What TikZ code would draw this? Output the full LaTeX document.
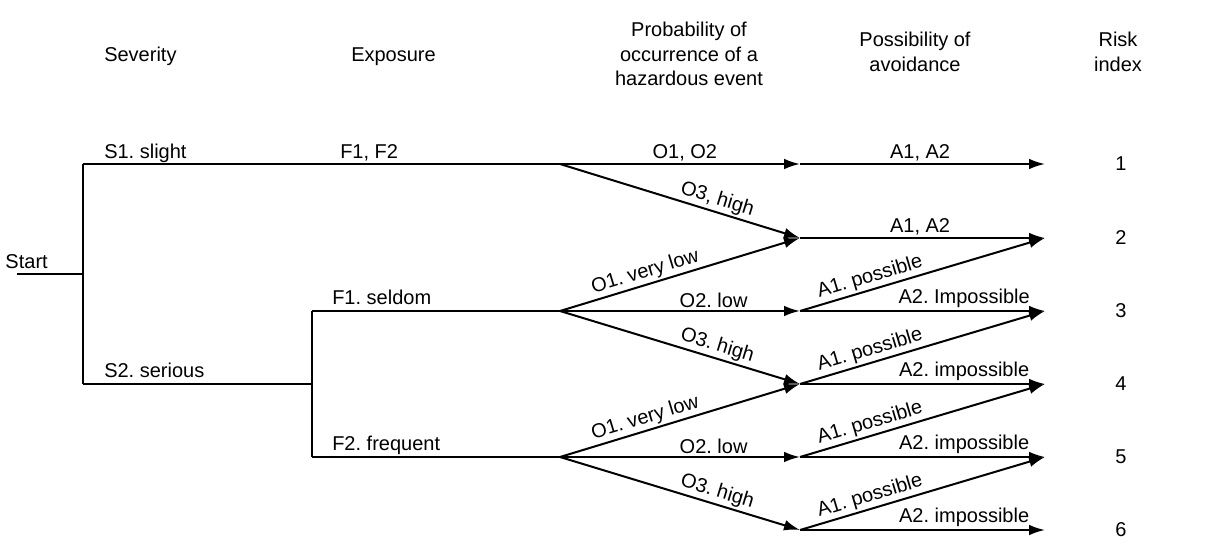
\documentclass[tikz,border=0pt]{standalone}
\usepackage{fontspec}
\setmainfont{Liberation Sans}
\usetikzlibrary{arrows.meta}
\begin{document}
\frenchspacing
\begin{tikzpicture}[x=0.75pt,y=-0.75pt,
  every node/.style={font=\fontsize{15}{18.4}\selectfont, inner sep=1.5pt},
  ln/.style={line width=1.5pt, line cap=butt},
  arr/.style={ln, -{Latex[length=12pt,width=8pt]}},
  arrin/.style={arr},
  lab/.style={above, sloped},
  hdr/.style={align=center, anchor=center},
  txt/.style={anchor=base west}]
\useasboundingbox (0,0) rectangle (1221,553);
\fill[white] (0,0) rectangle (1221,553);
% coordinates
\coordinate (st0) at (17,274);
\coordinate (j0) at (83,274);
\coordinate (s1) at (83,164);
\coordinate (s2) at (83,384);
\coordinate (f0) at (312,384);
\coordinate (f1) at (312,311);
\coordinate (f2) at (312,457);
\coordinate (o1) at (560,164);
\coordinate (o2) at (560,311);
\coordinate (o3) at (560,457);
\foreach \i/\y in {1/164,2/238,3/311,4/384,5/457,6/530}{
  \coordinate (a\i) at (800,\y);
  \coordinate (e\i) at (1045,\y);
  \node (r\i) at (1121,\y) {\i};
}
% headers
\node[txt] (hs) at (102,61) {Severity};
\node[txt] (he) at (349,61) {Exposure};
\node[hdr] (ho) at (689,54) {Probability of\\occurrence of a\\hazardous event};
\node[hdr] (ha) at (915,52) {Possibility of\\avoidance};
\node[hdr] (hr) at (1118,52) {Risk\\index};
% start and tree
\node[anchor=base east] (tstart) at (50,268) {Start};
\draw[ln] (st0) -- (j0);
\draw[ln] (s1) -- (s2);
\draw[ln] (s1) -- (o1);
\draw[ln] (s2) -- (f0);
\draw[ln] (f1) -- (f2);
\draw[ln] (f1) -- (o2);
\draw[ln] (f2) -- (o3);
\node[txt] (ls1) at (102,158) {S1. slight};
\node[txt] (lf12) at (338,158) {F1, F2};
\node[txt] (ls2) at (102,377) {S2. serious};
\node[txt] (lf1) at (330,304) {F1. seldom};
\node[txt] (lf2) at (330,450) {F2. frequent};
% occurrence branches
\draw[arrin] (o1) -- node[lab, pos=.52] {O1, O2} (a1);
\draw[arrin] (o1) -- node[lab, pos=.64] {O3, high} (a2);
\draw[arrin] (o2) -- node[lab, pos=.37] {O1. very low} (a2);
\draw[arrin] (o2) -- node[lab, pos=.64] {O2. low} (a3);
\draw[arrin] (o2) -- node[lab, pos=.64] {O3. high} (a4);
\draw[arrin] (o3) -- node[lab, pos=.37] {O1. very low} (a4);
\draw[arrin] (o3) -- node[lab, pos=.64] {O2. low} (a5);
\draw[arrin] (o3) -- node[lab, pos=.64] {O3. high} (a6);
% avoidance branches
\draw[arr] (a1) -- node[lab, pos=.49] {A1, A2} (e1);
\draw[arr] (a2) -- node[lab, pos=.49] {A1, A2} (e2);
\draw[arr] (a3) -- node[lab, pos=.3] {A1. possible} (e2);
\draw[arr] (a3) -- node[lab, pos=.67] {A2. Impossible} (e3);
\draw[arr] (a4) -- node[lab, pos=.3] {A1. possible} (e3);
\draw[arr] (a4) -- node[lab, pos=.67] {A2. impossible} (e4);
\draw[arr] (a5) -- node[lab, pos=.3] {A1. possible} (e4);
\draw[arr] (a5) -- node[lab, pos=.67] {A2. impossible} (e5);
\draw[arr] (a6) -- node[lab, pos=.3] {A1. possible} (e5);
\draw[arr] (a6) -- node[lab, pos=.67] {A2. impossible} (e6);
\end{tikzpicture}
\end{document}
